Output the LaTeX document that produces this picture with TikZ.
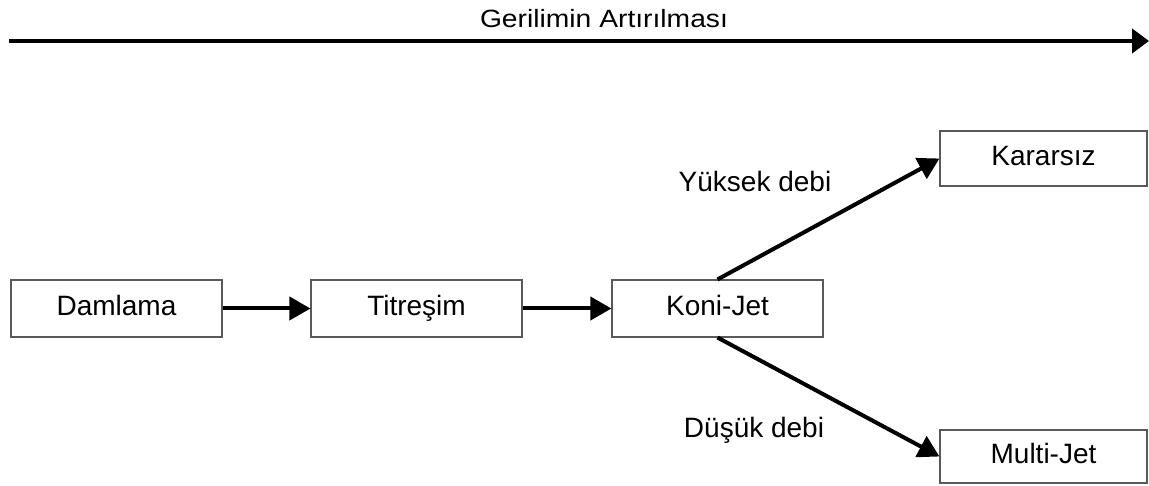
\documentclass[tikz,border=0pt]{standalone}
\usepackage{fontspec}
\setmainfont{Liberation Sans}
\usetikzlibrary{arrows.meta}

\tikzset{
  stage/.style={draw=black!65, line width=1.1pt, fill=white, minimum width=211pt,
    minimum height=57pt, inner sep=0pt, text height=20pt, text depth=6pt,
    font=\fontsize{28}{32}\selectfont},
  flow/.style={line width=4pt, -{Triangle[length=21pt,width=23pt]}},
  lbl/.style={anchor=base, inner sep=0pt, font=\fontsize{28}{32}\selectfont}
}

\begin{document}
\begin{tikzpicture}[x=1pt,y=-1pt]
  \useasboundingbox (0,0) rectangle (1149,486);

  % voltage axis
  \coordinate (axstart) at (9,41);
  \coordinate (axend) at (1149,41);
  \draw[line width=4.5pt, -{Triangle[length=17pt,width=24pt]}] (axstart) -- (axend);
  \node[lbl, font=\fontsize{25}{30}\selectfont] (title) at (604,28)
    {\scalebox{1.13}[1]{Gerilimin Artırılması}};

  % spray modes
  \node[stage] (dam)  at (116.5,308.5) {Damlama};
  \node[stage] (tit)  at (416.5,308.5) {Titreşim};
  \node[stage] (koni) at (717.5,308.5) {Koni-Jet};
  \node[stage, minimum width=207pt, minimum height=55pt] (kar) at (1043.5,158.5) {Kararsız};
  \node[stage, minimum width=207pt, minimum height=53pt] (multi) at (1043.5,456.5) {Multi-Jet};

  % transitions
  \draw[flow] (dam.east) -- (tit.west);
  \draw[flow] (tit.east) -- (koni.west);
  \draw[flow] (koni.north) -- (kar.west);
  \draw[flow] (koni.south) -- (multi.west);

  \node[lbl] (yuksek) at (755,192) {Yüksek debi};
  \node[lbl] (dusuk) at (754,437) {Düşük debi};
\end{tikzpicture}
\end{document}
